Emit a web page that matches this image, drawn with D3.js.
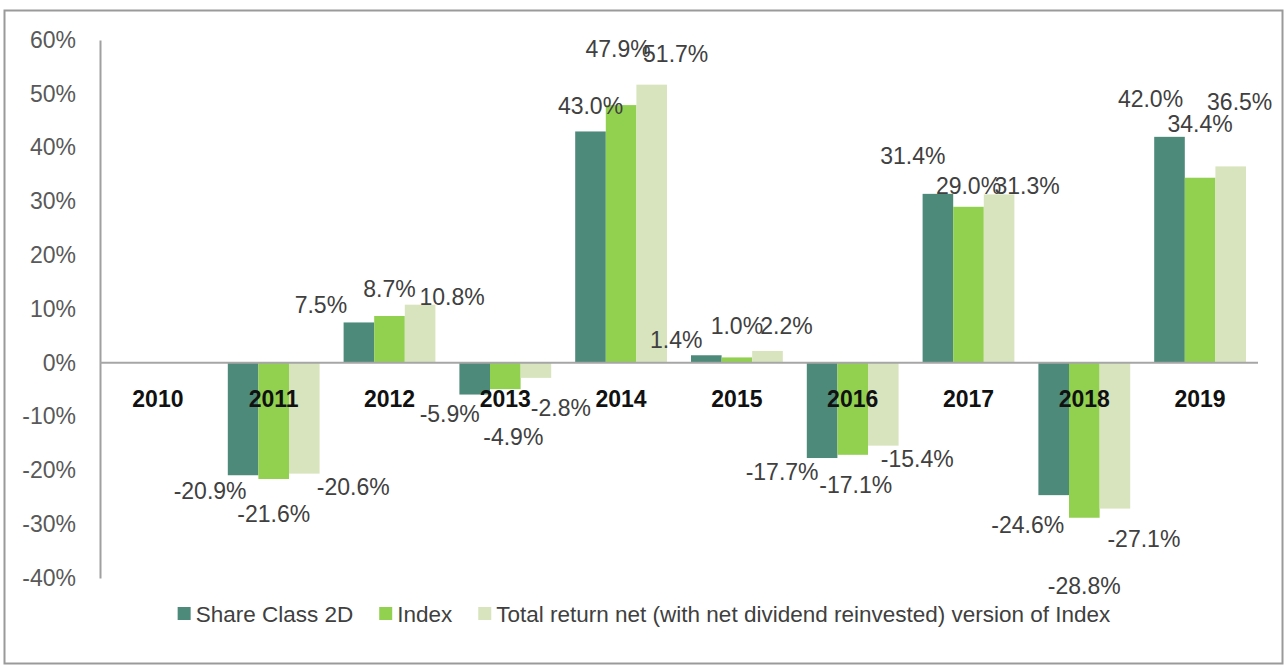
<!DOCTYPE html>
<html>
<head>
<meta charset="utf-8">
<script src="https://cdn.jsdelivr.net/npm/d3@7"></script>
<style>
  body { margin: 0; background: #fff; }
  text { font-family: "Liberation Sans", Arial, sans-serif; }
</style>
</head>
<body>
<div id="chart"></div>
<script>
// data
const years = ["2010", "2011", "2012", "2013", "2014", "2015", "2016", "2017", "2018", "2019"];
const seriesNames = ["Share Class 2D", "Index", "Total return net (with net dividend reinvested) version of Index"];
const shareClass = [null, -20.9, 7.5, -5.9, 43.0, 1.4, -17.7, 31.4, -24.6, 42.0];
const indexVals = [null, -21.6, 8.7, -4.9, 47.9, 1.0, -17.1, 29.0, -28.8, 34.4];
const totalReturn = [null, -20.6, 10.8, -2.8, 51.7, 2.2, -15.4, 31.3, -27.1, 36.5];
const yTicks = [-40, -30, -20, -10, 0, 10, 20, 30, 40, 50, 60];

const colors = ["#4e8a79", "#92d050", "#d7e4bd"];

// manual label nudges (dx, dy) per series / year, like the hand-dragged labels in the original
const labelNudge = [
    [null, [-33, 3], [-38, -5], [-25, 6], [0, -13], [-30, -2], [-40, 1], [-25, -25], [-26, 17], [-19, -25]],
    [null, [0, 22], [0, -14], [8, 35], [-3, -43], [0, -18], [3, 17], [0, -8], [0, 55], [0, -41]],
    [null, [49, 0], [32, 5], [25, 17], [24, -18], [19, -12], [34, 0], [28, 5], [29, 17], [9, -51]]
];

const allSeries = [shareClass, indexVals, totalReturn];

const width = 1288, height = 666;

const svg = d3.select("#chart").append("svg")
    .attr("width", width)
    .attr("height", height);

// outer frame
svg.append("rect")
    .attr("x", 4.5).attr("y", 10.5)
    .attr("width", 1278).attr("height", 653)
    .attr("fill", "none")
    .attr("stroke", "#9a9a9a")
    .attr("stroke-width", 2);

const x = d3.scaleBand().domain(years).range([100, 1258]).paddingInner(0).paddingOuter(0);
const xSub = d3.scaleBand().domain([0, 1, 2]).range([12, x.bandwidth() - 12]);
const y = d3.scaleLinear().domain([-40, 60]).range([578, 40]);

// y axis
const yAxis = d3.axisLeft(y)
    .tickValues(yTicks)
    .tickSize(0)
    .tickPadding(24)
    .tickFormat(d => d + "%");

const yg = svg.append("g")
    .attr("transform", "translate(100,0)")
    .call(yAxis);
yg.select(".domain").attr("stroke", "#a0a0a0").attr("stroke-width", 2);
yg.selectAll("text")
    .style("font-size", "23px")
    .style("font-family", "'Liberation Sans', Arial, sans-serif")
    .attr("fill", "#595959");

// bars
const bars = [];
allSeries.forEach((vals, si) => {
    vals.forEach((v, i) => {
        if (v === null) return;
        bars.push({ si, year: years[i], i, v });
    });
});

svg.append("g").selectAll("rect")
    .data(bars)
    .join("rect")
    .attr("x", d => x(d.year) + xSub(d.si))
    .attr("width", xSub.bandwidth())
    .attr("y", d => Math.min(y(d.v), y(0)))
    .attr("height", d => Math.abs(y(d.v) - y(0)))
    .attr("fill", d => colors[d.si]);

// zero line
svg.append("line")
    .attr("x1", 100).attr("x2", 1258)
    .attr("y1", y(0)).attr("y2", y(0))
    .attr("stroke", "#a6a6a6")
    .attr("stroke-width", 2);

// category labels
svg.append("g").selectAll("text")
    .data(years)
    .join("text")
    .attr("x", d => x(d) + x.bandwidth() / 2)
    .attr("y", 407)
    .attr("text-anchor", "middle")
    .style("font-size", "23px")
    .style("font-weight", "bold")
    .attr("fill", "#111")
    .text(d => d);

// data labels
svg.append("g").selectAll("text")
    .data(bars)
    .join("text")
    .attr("x", d => x(d.year) + xSub(d.si) + xSub.bandwidth() / 2 + labelNudge[d.si][d.i][0])
    .attr("y", d => y(d.v) + (d.v >= 0 ? -13 : 13) + labelNudge[d.si][d.i][1])
    .attr("dy", "0.35em")
    .attr("text-anchor", "middle")
    .style("font-size", "23px")
    .attr("fill", "#404040")
    .text(d => d.v.toFixed(1) + "%");

// legend
const legend = svg.append("g");
const items = legend.selectAll("g")
    .data(seriesNames)
    .join("g");
items.append("rect")
    .attr("width", 13).attr("height", 13)
    .attr("y", 607)
    .attr("fill", (d, i) => colors[i]);
items.append("text")
    .attr("x", 18)
    .attr("y", 614)
    .attr("dy", "0.35em")
    .style("font-size", "22.5px")
    .attr("fill", "#404040")
    .text(d => d);

let widths = [];
items.each(function () {
    widths.push(this.querySelector("text").getComputedTextLength() + 18);
});
const gap = 26;
const total = d3.sum(widths) + gap * (widths.length - 1);
let cx = 644 - total / 2;
items.attr("transform", (d, i) => {
    const t = `translate(${cx},0)`;
    cx += widths[i] + gap;
    return t;
});
</script>
</body>
</html>
